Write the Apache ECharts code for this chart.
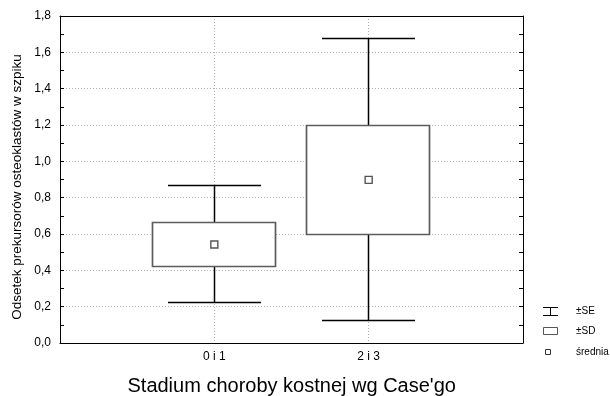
<!DOCTYPE html>
<html>
<head>
<meta charset="utf-8">
<script src="https://cdn.jsdelivr.net/npm/echarts@6/dist/echarts.min.js"></script>
<style>
html,body{margin:0;padding:0;background:#fff;}
#chart{width:610px;height:396px;}
</style>
</head>
<body>
<div id="chart"></div>
<script>
// ---- data ----
const categories = ['0 i 1', '2 i 3'];
const means = [0.542, 0.898];
const boxLow = [0.421, 0.601];      // ±SD box
const boxHigh = [0.663, 1.199];
const whiskerLow = [0.222, 0.123];  // ±SE whiskers
const whiskerHigh = [0.869, 1.678];
const yMin = 0, yMax = 1.8, yStep = 0.2;
const xTitle = "Stadium choroby kostnej wg Case'go";
const yTitle = 'Odsetek prekursorów osteoklastów w szpiku';
const legendLabels = ['±SE', '±SD', 'średnia'];

const FONT = 'Arial, "Liberation Sans", sans-serif';
const chart = echarts.init(document.getElementById('chart'), null, {renderer: 'canvas'});

const boxData = categories.map((c, i) => [i + 1, boxLow[i], boxHigh[i], whiskerLow[i], whiskerHigh[i]]);
const meanData = categories.map((c, i) => [i + 1, means[i]]);

function r5(v) { return Math.round(v - 0.5) + 0.5; }

function renderItem(params, api) {
  const x = api.value(0);
  const bl = api.value(1), bh = api.value(2), wl = api.value(3), wh = api.value(4);
  const pWT = api.coord([x, wh]);
  const pWB = api.coord([x, wl]);
  const pBT = api.coord([x, bh]);
  const pBB = api.coord([x, bl]);
  const boxHalf = api.size([0.4, 0])[0];
  const capHalf = api.size([0.3, 0])[0];
  const cx = r5(pWT[0]);
  const wStyle = {stroke: '#000', lineWidth: 1.5, fill: null};
  return {
    type: 'group',
    children: [
      {type: 'line', shape: {x1: cx, y1: r5(pWT[1]), x2: cx, y2: r5(pWB[1])}, style: wStyle},
      {type: 'line', shape: {x1: Math.round(cx - capHalf), y1: r5(pWT[1]), x2: Math.round(cx + capHalf), y2: r5(pWT[1])}, style: wStyle},
      {type: 'line', shape: {x1: Math.round(cx - capHalf), y1: r5(pWB[1]), x2: Math.round(cx + capHalf), y2: r5(pWB[1])}, style: wStyle},
      {type: 'rect', shape: {x: r5(cx - boxHalf), y: r5(pBT[1]), width: Math.round(2 * boxHalf), height: Math.round(pBB[1] - pBT[1])},
        style: {fill: '#fff', stroke: '#5c5c5c', lineWidth: 1.7}}
    ]
  };
}

const splitStyle = {type: [1, 2], color: '#b0b0b0', width: 1};

const option = {
  animation: false,
  backgroundColor: '#fff',
  textStyle: {fontFamily: FONT},
  grid: {left: 60, right: 87, top: 16, bottom: 53, containLabel: false},
  xAxis: [
    {
      type: 'value', min: 0, max: categories.length + 1, interval: 1, position: 'bottom',
      axisLine: {show: true, onZero: false, lineStyle: {color: '#000', width: 1}},
      axisTick: {show: false},
      splitLine: {show: true, lineStyle: splitStyle},
      axisLabel: {
        margin: 8, fontSize: 12, color: '#000', fontFamily: FONT,
        formatter: v => (v >= 1 && v <= categories.length) ? categories[v - 1] : ''
      }
    },
    {
      type: 'value', min: 0, max: categories.length + 1, interval: 1, position: 'top',
      axisLine: {show: true, onZero: false, lineStyle: {color: '#000', width: 1}},
      axisTick: {show: false}, axisLabel: {show: false}, splitLine: {show: false}
    }
  ],
  yAxis: [
    {
      type: 'value', min: yMin, max: yMax, interval: yStep, position: 'left',
      axisLine: {show: true, onZero: false, lineStyle: {color: '#000', width: 1}},
      axisTick: {show: true, inside: true, length: 4, lineStyle: {color: '#000'}},
      minorTick: {show: true, splitNumber: 2, length: 4, lineStyle: {color: '#000'}},
      splitLine: {show: true, lineStyle: splitStyle},
      axisLabel: {
        margin: 9, fontSize: 12, color: '#000', fontFamily: FONT,
        formatter: v => v.toFixed(1).replace('.', ',')
      }
    },
    {
      type: 'value', min: yMin, max: yMax, interval: yStep, position: 'right',
      axisLine: {show: true, onZero: false, lineStyle: {color: '#000', width: 1}},
      axisTick: {show: true, inside: true, length: 4, lineStyle: {color: '#000'}},
      minorTick: {show: true, splitNumber: 2, length: 4, lineStyle: {color: '#000'}},
      splitLine: {show: false}, axisLabel: {show: false}
    }
  ],
  series: [
    {
      type: 'custom', name: 'box', xAxisIndex: 0, yAxisIndex: 0,
      renderItem: renderItem, data: boxData, z: 3, clip: false
    },
    {
      type: 'scatter', name: legendLabels[2], xAxisIndex: 0, yAxisIndex: 0,
      data: meanData, symbol: 'rect', symbolSize: 7, z: 4,
      itemStyle: {color: '#fff', borderColor: '#555', borderWidth: 1.4, opacity: 1}
    }
  ],
  graphic: [
    {type: 'text', x: 17.5, y: 187, rotation: Math.PI / 2,
      style: {text: yTitle, font: '13.5px ' + FONT, fill: '#000', align: 'center', verticalAlign: 'middle'}},
    {type: 'text', x: 291.7, y: 386,
      style: {text: xTitle, font: '20px ' + FONT, fill: '#000', align: 'center', verticalAlign: 'middle'}},
    // legend: ±SE
    {type: 'line', shape: {x1: 543, y1: 307.5, x2: 558, y2: 307.5}, style: {stroke: '#000', lineWidth: 1}},
    {type: 'line', shape: {x1: 550.5, y1: 307.5, x2: 550.5, y2: 315.5}, style: {stroke: '#000', lineWidth: 1}},
    {type: 'line', shape: {x1: 543, y1: 315.5, x2: 558, y2: 315.5}, style: {stroke: '#000', lineWidth: 1}},
    {type: 'text', x: 576, y: 311.5, style: {text: legendLabels[0], font: '10px ' + FONT, fill: '#000', verticalAlign: 'middle'}},
    // legend: ±SD
    {type: 'rect', shape: {x: 543.5, y: 327.5, width: 14, height: 7}, style: {fill: '#fff', stroke: '#555', lineWidth: 1}},
    {type: 'text', x: 576, y: 331, style: {text: legendLabels[1], font: '10px ' + FONT, fill: '#000', verticalAlign: 'middle'}},
    // legend: mean
    {type: 'rect', shape: {x: 545.5, y: 349.5, width: 5, height: 5}, style: {fill: '#fff', stroke: '#333', lineWidth: 1}},
    {type: 'text', x: 576, y: 352, style: {text: legendLabels[2], font: '10px ' + FONT, fill: '#000', verticalAlign: 'middle'}}
  ]
};
chart.setOption(option);
</script>
</body>
</html>
